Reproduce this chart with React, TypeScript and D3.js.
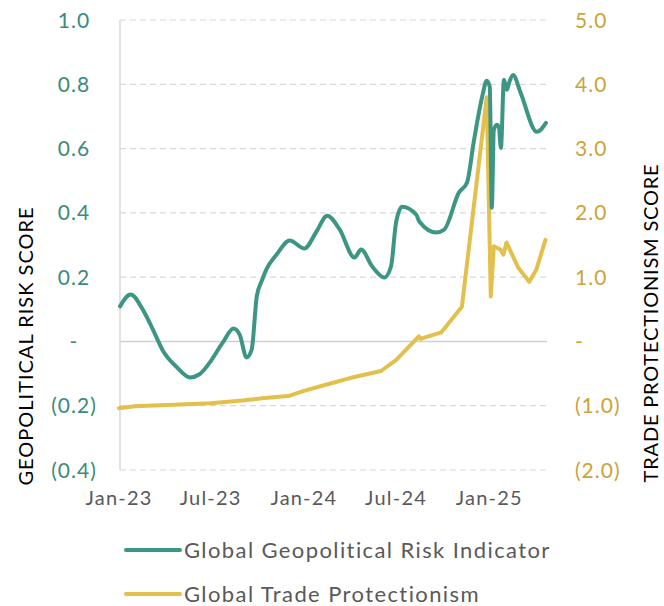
import { useEffect, useRef } from 'react';
import * as d3 from 'd3';

// Global Geopolitical Risk Indicator (left axis)
const riskDates = [
  '2023-01-03', '2023-01-24', '2023-02-17', '2023-03-09', '2023-03-29', '2023-04-25',
  '2023-05-21', '2023-06-09', '2023-06-29', '2023-07-25', '2023-08-15', '2023-08-27',
  '2023-09-10', '2023-09-20', '2023-09-30', '2023-10-11', '2023-10-19', '2023-11-08',
  '2023-12-04', '2024-01-02', '2024-01-26', '2024-02-16', '2024-03-11', '2024-04-10',
  '2024-04-23', '2024-05-15', '2024-06-08', '2024-06-21', '2024-07-01', '2024-07-13',
  '2024-08-10', '2024-08-16', '2024-09-18', '2024-10-04', '2024-11-02', '2024-11-18',
  '2024-12-02', '2024-12-18', '2024-12-27', '2025-01-02', '2025-01-06', '2025-01-10',
  '2025-01-16', '2025-01-20', '2025-01-24', '2025-01-30', '2025-02-05', '2025-02-09',
  '2025-02-17', '2025-03-04', '2025-04-05', '2025-04-23',
];
const riskValues = [
  0.109, 0.146, 0.099, 0.037, -0.03, -0.08,
  -0.112, -0.102, -0.066, -0.003, 0.04, 0.022,
  -0.05, -0.025, 0.14, 0.193, 0.224, 0.27,
  0.314, 0.289, 0.342, 0.391, 0.35, 0.261,
  0.286, 0.233, 0.199, 0.233, 0.37, 0.419,
  0.394, 0.373, 0.339, 0.348, 0.463, 0.494,
  0.627, 0.761, 0.811, 0.792, 0.416, 0.658,
  0.674, 0.668, 0.602, 0.814, 0.783, 0.804,
  0.829, 0.773, 0.652, 0.68,
];

// Global Trade Protectionism (right axis)
const tradeDates = [
  '2023-01-01', '2023-02-01', '2023-05-01', '2023-07-01', '2023-09-01', '2023-10-15',
  '2023-12-01', '2024-01-01', '2024-02-15', '2024-04-01', '2024-06-01', '2024-07-01',
  '2024-08-15', '2024-08-18', '2024-09-28', '2024-11-08', '2024-12-27', '2025-01-04',
  '2025-01-10', '2025-01-23', '2025-01-29', '2025-02-04', '2025-02-27', '2025-03-21',
  '2025-04-04', '2025-04-22',
];
const tradeValues = [
  -1.04, -1.01, -0.98, -0.96, -0.92, -0.88,
  -0.85, -0.77, -0.67, -0.57, -0.46, -0.29,
  0.08, 0.04, 0.14, 0.54, 3.8, 0.7,
  1.48, 1.43, 1.35, 1.54, 1.15, 0.93,
  1.12, 1.58,
];

const leftTicks = [-0.4, -0.2, 0, 0.2, 0.4, 0.6, 0.8, 1.0];
const rightTicks = [-2, -1, 0, 1, 2, 3, 4, 5];
const xTickDates = ['2023-01-01', '2023-07-01', '2024-01-01', '2024-07-01', '2025-01-01'];

const seriesNames = ['Global Geopolitical Risk Indicator', 'Global Trade Protectionism'];
const TEAL = '#3d9584';
const GOLD = '#e3bf4c';

const parse = d3.timeParse('%Y-%m-%d');

function fmt(v) {
  if (Math.abs(v) < 1e-9) return '-';
  return v < 0 ? `(${Math.abs(v).toFixed(1)})` : v.toFixed(1);
}

export default function App() {
  const svgRef = useRef(null);

  useEffect(() => {
    const width = 664;
    const height = 606;
    const font = 'Lato, "Noto Sans", sans-serif';

    const svg = d3.select(svgRef.current)
      .attr('width', width)
      .attr('height', height);
    svg.selectAll('*').remove();

    const x = d3.scaleTime()
      .domain([new Date(2023, 0, 1), new Date(2025, 3, 25)])
      .range([119, 547]);
    const yL = d3.scaleLinear().domain([-0.4, 1.0]).range([470, 20]);
    const yR = d3.scaleLinear().domain([-2, 5]).range([470, 20]);

    // gridlines
    svg.append('g')
      .selectAll('line')
      .data(leftTicks.filter(t => Math.abs(t) > 1e-9))
      .enter().append('line')
      .attr('x1', 120).attr('x2', 547)
      .attr('y1', d => yL(d)).attr('y2', d => yL(d))
      .attr('stroke', '#d9d9d9')
      .attr('stroke-width', 1.2)
      .attr('stroke-dasharray', '6,4');

    // zero line
    svg.append('line')
      .attr('x1', 120).attr('x2', 547)
      .attr('y1', yL(0)).attr('y2', yL(0))
      .attr('stroke', '#d0d0d0')
      .attr('stroke-width', 1.5);

    // left axis line
    svg.append('line')
      .attr('x1', 120).attr('x2', 120)
      .attr('y1', yL(1.0)).attr('y2', yL(-0.4))
      .attr('stroke', '#d9d9d9')
      .attr('stroke-width', 1.5);

    // left tick labels
    svg.append('g')
      .selectAll('text')
      .data(leftTicks)
      .enter().append('text')
      .attr('x', 74)
      .attr('y', d => yL(d))
      .attr('dy', '0.36em')
      .attr('text-anchor', 'middle')
      .attr('font-family', font)
      .attr('font-size', 21)
      .attr('letter-spacing', 1)
      .attr('fill', '#3b8a7b')
      .text(d => fmt(d));

    // right tick labels
    svg.append('g')
      .selectAll('text')
      .data(rightTicks)
      .enter().append('text')
      .attr('x', 575)
      .attr('y', d => yR(d))
      .attr('dy', '0.36em')
      .attr('text-anchor', 'start')
      .attr('font-family', font)
      .attr('font-size', 21)
      .attr('letter-spacing', 1)
      .attr('fill', '#c9a43a')
      .text(d => fmt(d));

    // x tick labels
    svg.append('g')
      .selectAll('text')
      .data(xTickDates.map(parse))
      .enter().append('text')
      .attr('x', d => x(d))
      .attr('y', 505)
      .attr('text-anchor', 'middle')
      .attr('font-family', font)
      .attr('font-size', 20)
      .attr('letter-spacing', 1.2)
      .attr('fill', '#595959')
      .text(d => d3.timeFormat('%b-%y')(d));

    // axis titles
    svg.append('text')
      .attr('transform', 'translate(26,346) rotate(-90)')
      .attr('text-anchor', 'middle')
      .attr('dy', '0.36em')
      .attr('font-family', font)
      .attr('font-size', 20)
      .attr('letter-spacing', 1)
      .attr('fill', '#000')
      .text('GEOPOLITICAL RISK SCORE');

    svg.append('text')
      .attr('transform', 'translate(651,323) rotate(-90)')
      .attr('text-anchor', 'middle')
      .attr('dy', '0.36em')
      .attr('font-family', font)
      .attr('font-size', 20)
      .attr('letter-spacing', 0.8)
      .attr('fill', '#000')
      .text('TRADE PROTECTIONISM SCORE');

    // lines
    const riskData = riskDates.map((d, i) => ({ date: parse(d), value: riskValues[i] }));
    const tradeData = tradeDates.map((d, i) => ({ date: parse(d), value: tradeValues[i] }));

    const tradeLine = d3.line()
      .x(d => x(d.date))
      .y(d => yR(d.value));
    const riskLine = d3.line()
      .x(d => x(d.date))
      .y(d => yL(d.value))
      .curve(d3.curveMonotoneX);

    svg.append('path')
      .datum(tradeData)
      .attr('d', tradeLine)
      .attr('fill', 'none')
      .attr('stroke', GOLD)
      .attr('stroke-width', 4)
      .attr('stroke-linejoin', 'round')
      .attr('stroke-linecap', 'round');

    svg.append('path')
      .datum(riskData)
      .attr('d', riskLine)
      .attr('fill', 'none')
      .attr('stroke', TEAL)
      .attr('stroke-width', 4)
      .attr('stroke-linejoin', 'round')
      .attr('stroke-linecap', 'round');

    // legend
    const legend = svg.append('g')
      .selectAll('g')
      .data(seriesNames)
      .enter().append('g')
      .attr('transform', (d, i) => `translate(0,${550 + i * 44})`);
    legend.append('line')
      .attr('x1', 126).attr('x2', 180)
      .attr('y1', 0).attr('y2', 0)
      .attr('stroke', (d, i) => (i === 0 ? TEAL : GOLD))
      .attr('stroke-width', 4)
      .attr('stroke-linecap', 'round');
    legend.append('text')
      .attr('x', 184)
      .attr('y', 7.5)
      .attr('font-family', font)
      .attr('font-size', 22)
      .attr('letter-spacing', 1.4)
      .attr('fill', '#595959')
      .text(d => d);
  }, []);

  return <svg ref={svgRef} style={{ position: 'absolute', left: 0, top: 0 }}></svg>;
}
